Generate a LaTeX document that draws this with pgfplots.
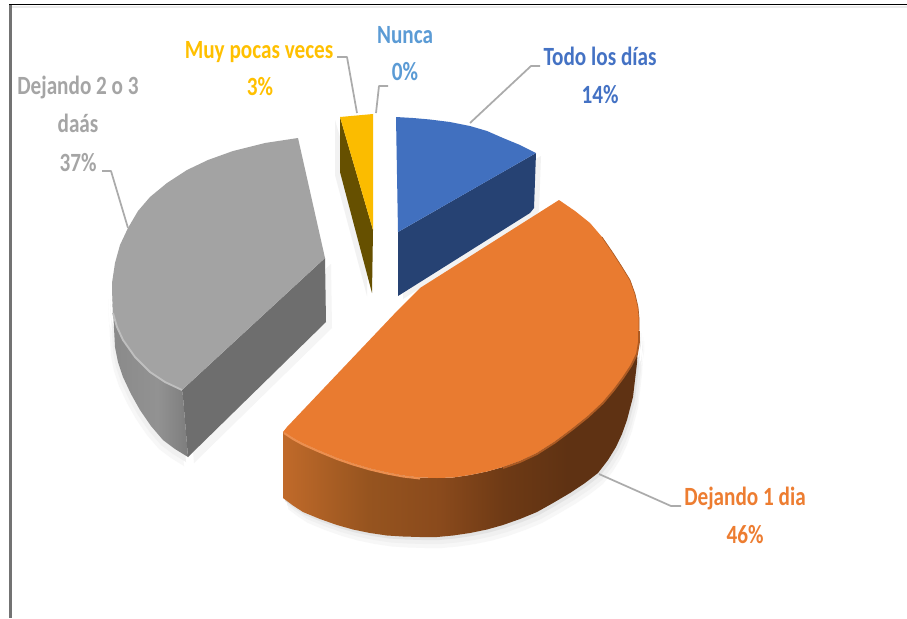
\documentclass[border=0pt]{standalone}
\usepackage{graphicx}
\usepackage{fontspec}
\setmainfont{Carlito}
\usepackage{pgfplots}
\usepackage{pgfplotstable}
\pgfplotsset{compat=1.18}

\definecolor{cBlue}{HTML}{4170BF}
\definecolor{cBlueD}{HTML}{264273}
\definecolor{cYel}{HTML}{FBBC00}
\definecolor{cYelD}{HTML}{665000}
\definecolor{cGry}{HTML}{A3A3A3}
\definecolor{cGryD}{HTML}{6E6E6E}
\definecolor{cOra}{HTML}{E97B30}
\definecolor{cOraD}{HTML}{5F3213}
\definecolor{cLead}{HTML}{ABABAB}
\definecolor{tBlue}{HTML}{4472C4}
\definecolor{tSky}{HTML}{5B9BD5}
\definecolor{tYel}{HTML}{FFC000}
\definecolor{tGry}{HTML}{A5A5A5}
\definecolor{tOra}{HTML}{ED7D31}

\definecolor{os1}{HTML}{C06A2A}
\definecolor{os2}{HTML}{96541F}
\definecolor{os3}{HTML}{8A4A1C}
\definecolor{os4}{HTML}{6E3A15}
\pgfdeclarehorizontalshading{orangeside}{100bp}{color(0bp)=(os1); color(25bp)=(os1); color(37bp)=(os2); color(47bp)=(os3); color(56bp)=(os4); color(65bp)=(cOraD); color(100bp)=(cOraD)}
\definecolor{gs1}{HTML}{8A8A8A}
\definecolor{gs3}{HTML}{929292}
\definecolor{gs2}{HTML}{7D7D7D}
\pgfdeclarehorizontalshading{greyside}{100bp}{color(0bp)=(gs1); color(25bp)=(gs1); color(55bp)=(gs3); color(75bp)=(gs2); color(100bp)=(gs2)}

% outlines in image pixels
\pgfplotstableread{
x y
283 432
293 438
303 443.5
320 451
337 458
353 463.5
370 468.5
387 472.5
403 475.5
420 477.5
437 478
453 477.5
470 475
487 471.5
503 467
520 461
537 453
555 441.5
573 428
588 416
603 402
614 389
623 377
631 365
637 353
639 341
639 330
637 363
633 397
627 420
622 434
616 447
608 460
598 473
585 483
570 493
553 503
537 512
520 519
503 525
487 529.5
470 533
453 535.5
437 537
420 537
403 536.5
387 535.5
370 533
353 529.5
337 525
320 519
303 512
293 505.5
283 498
}\orangeside
\pgfplotstableread{
x y
112 290
113 313
117 327
123 340
135 357
150 372
165 382
182 390
183 397
188 457
175 449
163 440
151 426
140 410
131 394
123 377
118 362
115 347
}\greyside
\pgfplotstableread{
x y
182 390
325 258
326 322
188 457
183 397
}\greyface
\pgfplotstableread{
x y
398 232
536 153
534 208
530 213
398 296
}\blueside
\pgfplotstableread{
x y
340 117
340 172
372 293
373 230
}\yellowside

\newcommand{\lab}[4]{\node[anchor=base, inner sep=0pt, text=#3] at (axis cs:#1,#2) {\scalebox{1}[1.24]{\fontsize{15.9}{18}\selectfont\bfseries #4}};}

\begin{document}
\begin{tikzpicture}
\begin{axis}[width=680.25pt, height=463.5pt, scale only axis,
  xmin=0, xmax=907, ymin=0, ymax=618, y dir=reverse, hide axis,
  every axis plot/.append style={no markers, line join=round}]

% page and frame
\addplot[fill=white, draw=none] coordinates {(0,0) (907,0) (907,618) (0,618)} --cycle;
\addplot[draw=black, line width=0.9pt] coordinates {(9,4.7) (907,4.7)};
\addplot[draw=black!8, line width=1pt] coordinates {(11,7) (907,7)};
\addplot[draw=black!55, line width=1.6pt] coordinates {(10.5,4.7) (10.5,618)};

% soft shadows
\addplot[fill=black!3, draw=none] table[x expr=\thisrow{x}+5, y expr=\thisrow{y}+11] {\orangeside} --cycle;
\addplot[fill=black!6, draw=none] table[x expr=\thisrow{x}+4, y expr=\thisrow{y}+7] {\orangeside} --cycle;
\addplot[fill=black!11, draw=none] table[x expr=\thisrow{x}+2, y expr=\thisrow{y}+3] {\orangeside} --cycle;
\addplot[fill=black!3, draw=none] table[x expr=\thisrow{x}-4, y expr=\thisrow{y}+9] {\greyside} --cycle;
\addplot[fill=black!6, draw=none] table[x expr=\thisrow{x}-2, y expr=\thisrow{y}+5] {\greyside} --cycle;
\addplot[fill=black!4, draw=none] table[x expr=\thisrow{x}+6, y expr=\thisrow{y}+6] {\greyface} --cycle;
\addplot[fill=black!5, draw=none] table[x expr=\thisrow{x}+5, y expr=\thisrow{y}+3] {\blueside} --cycle;
\addplot[fill=black!5, draw=none] table[x expr=\thisrow{x}-5, y expr=\thisrow{y}+3] {\yellowside} --cycle;

% sides
\addplot[shading=greyside, draw=none] table {\greyside} --cycle;
\addplot[fill=cGryD, draw=none] table {\greyface} --cycle;
\addplot[fill=cBlueD, draw=none] table {\blueside} --cycle;
\addplot[fill=cYelD, draw=none] table {\yellowside} --cycle;
\addplot[shading=orangeside, draw=none] table {\orangeside} --cycle;

% top faces
\addplot[fill=cBlue, draw=none] coordinates {(396,117) (413,118) (430,119.5) (450,122) (470,126) (487,131) (503,138) (520,145) (536,153) (398,232)} --cycle;
\addplot[fill=cYel, draw=none] coordinates {(340,117) (373,114) (373,230)} --cycle;
\addplot[fill=cGry, draw=none] coordinates {(298,138) (265,143) (233,151) (208,160) (187,170) (167,183) (150,197) (138,211) (128,228) (120,245) (115,263) (112,283) (112,290) (113,313) (117,327) (123,340) (135,357) (150,372) (165,382) (182,390) (325,258)} --cycle;
\addplot[fill=cOra, draw=none] coordinates {(559,200) (575,211) (590,223) (602,237) (613,253) (622,267) (630,280) (635,294) (638,307) (639,318) (639,330) (639,341) (637,353) (631,365) (623,377) (614,389) (603,402) (588,416) (573,428) (555,441.5) (537,453) (520,461) (503,467) (487,471.5) (470,475) (453,477.5) (437,478) (420,477.5) (403,475.5) (387,472.5) (370,468.5) (353,463.5) (337,458) (320,451) (303,443.5) (293,438) (283,432) (287,427) (398,310) (420,288)} --cycle;

% rims
\addplot[draw=white!30!cGry, line width=1.4pt] coordinates {(113,313) (117,327) (123,340) (135,357) (150,372) (165,382) (182,390)};
\addplot[draw=white!15!cOra, line width=1.5pt] coordinates {(284,433) (293,439) (303,444.5) (320,452) (337,459) (353,464.5) (370,469.5) (387,473.5) (403,476.5) (420,478.5)};
\addplot[draw=cOraD!45!cOra, line width=1.4pt] coordinates {(503,468) (520,462) (537,454) (555,442.5) (573,429) (588,417) (603,403) (614,390) (623,378) (631,366) (637,354) (639,342) (639,331)};
\addplot[draw=cOraD!45!cOra, line width=0.5pt] coordinates {(602,237) (613,253) (622,267) (630,280) (635,294) (638,307) (639,318) (639,330)};

% leaders
\addplot[draw=cLead, line width=1.3pt] coordinates {(337,57) (347,57) (357,113)};
\addplot[draw=cLead, line width=1.3pt] coordinates {(388,86) (379,86) (376,113)};
\addplot[draw=cLead, line width=1.3pt] coordinates {(540,66) (531,66) (470,123)};
\addplot[draw=cLead, line width=1.3pt] coordinates {(102,171) (111,171) (128,228)};
\addplot[draw=cLead, line width=1.3pt] coordinates {(681,506) (671,506) (599,474)};

% labels
\lab{259}{58}{tYel}{Muy pocas veces}
\lab{260}{95}{tYel}{3\%}
\lab{405}{43}{tSky}{Nunca}
\lab{405}{80}{tSky}{0\%}
\lab{600}{65}{tBlue}{Todo los días}
\lab{600}{103}{tBlue}{14\%}
\lab{78}{94}{tGry}{Dejando 2 o 3}
\lab{78}{132}{tGry}{daás}
\lab{78}{171}{tGry}{37\%}
\lab{745}{505}{tOra}{Dejando 1 dia}
\lab{745}{543}{tOra}{46\%}
\end{axis}
\end{tikzpicture}
\end{document}
